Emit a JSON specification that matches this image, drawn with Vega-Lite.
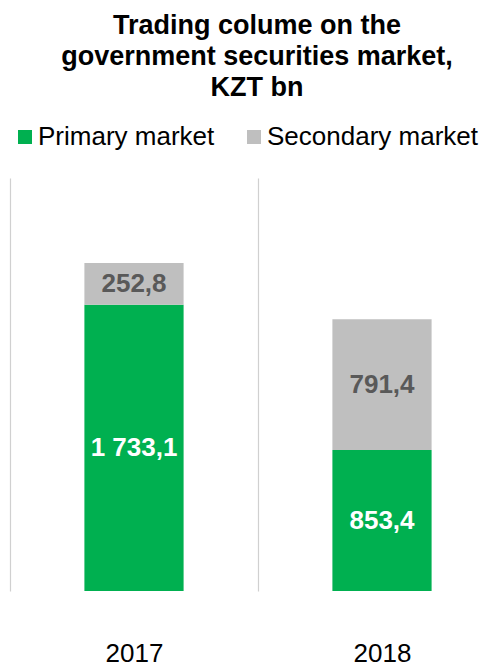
{
  "$schema": "https://vega.github.io/schema/vega-lite/v6.json",
  "autosize": "none",
  "width": 478,
  "height": 413,
  "padding": {"left": 10, "top": 178, "right": 0, "bottom": 71},
  "background": "white",
  "config": {"view": {"stroke": null}, "font": "Liberation Sans"},
  "data": {"values": [
    {"year": "2017", "market": "Primary market", "value": 1733.1, "label": "1 733,1", "order": 1},
    {"year": "2017", "market": "Secondary market", "value": 252.8, "label": "252,8", "order": 2},
    {"year": "2018", "market": "Primary market", "value": 853.4, "label": "853,4", "order": 1},
    {"year": "2018", "market": "Secondary market", "value": 791.4, "label": "791,4", "order": 2}
  ]},
  "transform": [
    {"stack": "value", "groupby": ["year"], "sort": [{"field": "order"}], "as": ["v0", "v1"]},
    {"calculate": "(datum.v0 + datum.v1) / 2", "as": "mid"}
  ],
  "title": {
    "text": ["Trading colume on the", "government securities market,", "KZT bn"],
    "fontSize": 27,
    "fontWeight": "bold",
    "font": "Liberation Sans",
    "color": "black",
    "lineHeight": 31,
    "anchor": "middle",
    "frame": "group",
    "dx": 8,
    "offset": 22
  },
  "layer": [
    {
      "mark": {"type": "bar", "width": {"band": 0.4}},
      "encoding": {
        "x": {
          "field": "year", "type": "nominal",
          "scale": {"paddingInner": 0, "paddingOuter": 0, "range": [0, 496]},
          "axis": {
            "title": null, "domain": false, "ticks": false, "labelAngle": 0,
            "labelFontSize": 26, "labelFont": "Liberation Sans", "labelColor": "black",
            "labelPadding": 49, "grid": true, "gridColor": "#D0D0D0", "gridWidth": 1.2,
            "tickBand": "extent"
          }
        },
        "y": {"field": "v0", "type": "quantitative", "scale": {"domain": [0, 2500], "nice": false}, "axis": null},
        "y2": {"field": "v1"},
        "color": {
          "field": "market", "type": "nominal",
          "scale": {"domain": ["Primary market", "Secondary market"], "range": ["#00B050", "#BFBFBF"]},
          "legend": {
            "orient": "none", "legendX": 2, "legendY": -54, "direction": "horizontal",
            "title": null, "symbolType": "square", "symbolSize": 196, "symbolStrokeWidth": 0,
            "symbolOpacity": 1, "labelFontSize": 26, "labelFont": "Liberation Sans",
            "labelColor": "black", "labelOffset": 0, "columnPadding": 26, "padding": 0,
            "labelLimit": 400
          }
        }
      }
    },
    {
      "mark": {"type": "text", "fontWeight": "bold", "fontSize": 26, "font": "Liberation Sans"},
      "encoding": {
        "x": {"field": "year", "type": "nominal"},
        "y": {"field": "mid", "type": "quantitative"},
        "text": {"field": "label"},
        "color": {"condition": {"test": "datum.market === 'Primary market'", "value": "white"}, "value": "#595959"}
      }
    }
  ]
}
